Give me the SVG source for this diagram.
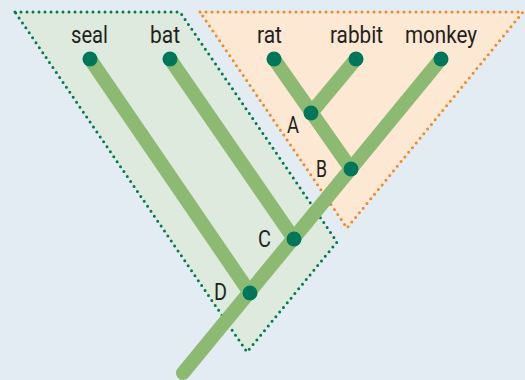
<svg xmlns="http://www.w3.org/2000/svg" width="525" height="380" viewBox="0 0 525 380">
  <style>
    .grp-green { fill: #ddeadd; stroke: #007a4c; stroke-width: 3; stroke-dasharray: 0 6; stroke-linecap: round; stroke-linejoin: round; }
    .grp-orange { fill: #fde8d4; stroke: #f08a24; stroke-width: 3; stroke-dasharray: 0 6; stroke-linecap: round; stroke-linejoin: round; }
    .branch { fill: none; stroke: #8cba72; stroke-width: 14; stroke-linecap: round; }
    .node { fill: #00775a; }
    .lbl { font-family: Roboto, "Liberation Sans", sans-serif; font-size: 23px; fill: #231f20; }
  </style>
  <rect width="525" height="380" fill="#e3ecf3"/>

  <!-- clade groupings -->
  <g id="group-green">
    <polygon class="grp-green" points="15,12 180,12 337,242 247,352"/>
  </g>
  <g id="group-orange">
    <polygon class="grp-orange" points="200,12 523,12 347,228"/>
  </g>

  <!-- branches -->
  <g id="connectors">
    <line class="branch" x1="441" y1="59" x2="183" y2="373"/>
    <line class="branch" x1="274" y1="59" x2="351" y2="169"/>
    <line class="branch" x1="356" y1="59" x2="311" y2="113"/>
    <line class="branch" x1="170" y1="59" x2="294" y2="239"/>
    <line class="branch" x1="90" y1="59" x2="250" y2="293"/>
  </g>

  <g id="seal"><circle class="node" cx="90" cy="59" r="7.5"/><text class="lbl" x="71" y="43" textLength="37" lengthAdjust="spacingAndGlyphs">seal</text></g>
  <g id="bat"><circle class="node" cx="170" cy="59" r="7.5"/><text class="lbl" x="150" y="43" textLength="30" lengthAdjust="spacingAndGlyphs">bat</text></g>
  <g id="rat"><circle class="node" cx="274" cy="59" r="7.5"/><text class="lbl" x="257" y="43" textLength="25" lengthAdjust="spacingAndGlyphs">rat</text></g>
  <g id="rabbit"><circle class="node" cx="356" cy="59" r="7.5"/><text class="lbl" x="330" y="43" textLength="53" lengthAdjust="spacingAndGlyphs">rabbit</text></g>
  <g id="monkey"><circle class="node" cx="441" cy="59" r="7.5"/><text class="lbl" x="405" y="43" textLength="72" lengthAdjust="spacingAndGlyphs">monkey</text></g>
  <g id="node-A"><circle class="node" cx="311" cy="113" r="7.5"/><text class="lbl" x="287" y="133" textLength="12" lengthAdjust="spacingAndGlyphs">A</text></g>
  <g id="node-B"><circle class="node" cx="351" cy="169" r="7.5"/><text class="lbl" x="316" y="177" textLength="11" lengthAdjust="spacingAndGlyphs">B</text></g>
  <g id="node-C"><circle class="node" cx="294" cy="239" r="7.5"/><text class="lbl" x="258" y="247" textLength="13" lengthAdjust="spacingAndGlyphs">C</text></g>
  <g id="node-D"><circle class="node" cx="250" cy="293" r="7.5"/><text class="lbl" x="214" y="300" textLength="13" lengthAdjust="spacingAndGlyphs">D</text></g>
</svg>
